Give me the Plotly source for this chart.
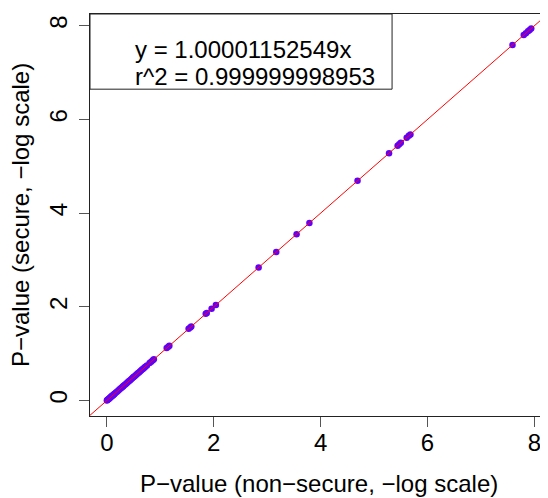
import plotly.graph_objects as go

# Data (-log10 p-values)
x_nonsecure = [0.00, 0.01, 0.02, 0.03, 0.04, 0.05, 0.06, 0.07, 0.08, 0.09, 0.10, 0.11,
               0.12, 0.13, 0.14, 0.15, 0.17, 0.19, 0.21, 0.23, 0.25, 0.27, 0.29, 0.30,
               0.31, 0.33, 0.35, 0.37, 0.39, 0.41, 0.43, 0.45, 0.47, 0.49, 0.50, 0.52,
               0.54, 0.56, 0.58, 0.60, 0.62, 0.64, 0.66, 0.68, 0.70, 0.72, 0.75, 0.80,
               0.83, 0.86, 0.88, 1.12, 1.15, 1.17, 1.53, 1.56, 1.58, 1.85, 1.87, 1.96,
               2.04, 2.84, 3.17, 3.55, 3.79, 4.69, 5.28, 5.44, 5.47, 5.50, 5.61, 5.65,
               5.68, 7.59, 7.80, 7.84, 7.88, 7.91, 7.94]
y_secure = [0.00, 0.01, 0.02, 0.03, 0.04, 0.05, 0.06, 0.07, 0.08, 0.09, 0.10, 0.11,
            0.12, 0.13, 0.14, 0.15, 0.17, 0.19, 0.21, 0.23, 0.25, 0.27, 0.29, 0.30,
            0.31, 0.33, 0.35, 0.37, 0.39, 0.41, 0.43, 0.45, 0.47, 0.49, 0.50, 0.52,
            0.54, 0.56, 0.58, 0.60, 0.62, 0.64, 0.66, 0.68, 0.70, 0.72, 0.75, 0.80,
            0.83, 0.86, 0.88, 1.12, 1.15, 1.17, 1.53, 1.56, 1.58, 1.85, 1.87, 1.96,
            2.04, 2.84, 3.17, 3.55, 3.79, 4.69, 5.28, 5.44, 5.47, 5.50, 5.61, 5.65,
            5.68, 7.59, 7.80, 7.84, 7.88, 7.91, 7.94]
slope = 1.00001152549
r2 = 0.999999998953
tick_vals = [0, 2, 4, 6, 8]

FONT = "Liberation Sans, Arial, Helvetica, sans-serif"
FS = 24

line_x = [-1, 9]
line_y = [slope * v for v in line_x]

fig = go.Figure()
fig.add_trace(go.Scatter(x=x_nonsecure, y=y_secure, mode="markers",
                         marker=dict(color="rgb(96,0,250)", size=6.5, line=dict(width=0)),
                         showlegend=False, cliponaxis=True))
fig.add_trace(go.Scatter(x=line_x, y=line_y, mode="lines",
                         line=dict(color="red", width=1), showlegend=False))

axis_common = dict(showgrid=False, zeroline=False, showline=True, mirror=True,
                   linecolor="#222", linewidth=1, ticks="outside", ticklen=10,
                   tickcolor="#555", tickwidth=1, tickvals=tick_vals,
                   tickfont=dict(family=FONT, size=FS, color="black"))
fig.update_xaxes(range=[-0.315, 8.235], ticklabelstandoff=-5, **axis_common)
fig.update_yaxes(range=[-0.33, 8.25], tickangle=-90, ticklabelstandoff=2, **axis_common)

# legend box
fig.add_shape(type="rect", xref="paper", yref="paper", x0=0, x1=0.661, y0=0.813, y1=1,
              line=dict(color="#222", width=1), fillcolor="white", layer="above")
fig.add_annotation(xref="paper", yref="paper", x=0, y=1, xanchor="left", yanchor="middle",
                   xshift=43, yshift=-35, showarrow=False, align="left",
                   text=f"y = {slope}x", font=dict(family=FONT, size=FS, color="black"))
fig.add_annotation(xref="paper", yref="paper", x=0, y=1, xanchor="left", yanchor="middle",
                   xshift=43, yshift=-62, showarrow=False, align="left",
                   text=f"r^2 = {r2}", font=dict(family=FONT, size=FS, color="black"))

# axis titles
fig.add_annotation(xref="paper", yref="paper", x=0.5, y=0, xanchor="center", yanchor="middle",
                   yshift=-67, showarrow=False,
                   text="P\u2212value (non\u2212secure, \u2212log scale)",
                   font=dict(family=FONT, size=FS, color="black"))
fig.add_annotation(xref="paper", yref="paper", x=0, y=0.5, xanchor="center", yanchor="middle",
                   xshift=-70, textangle=-90, showarrow=False,
                   text="P\u2212value (secure, \u2212log scale)",
                   font=dict(family=FONT, size=FS, color="black"))

# page body has an 8px margin, so the figure is 8px smaller and shifted
fig.update_layout(width=540, height=490, margin=dict(l=82, r=1, t=6, b=82),
                  paper_bgcolor="white", plot_bgcolor="white")

fig.write_html("out.html")
